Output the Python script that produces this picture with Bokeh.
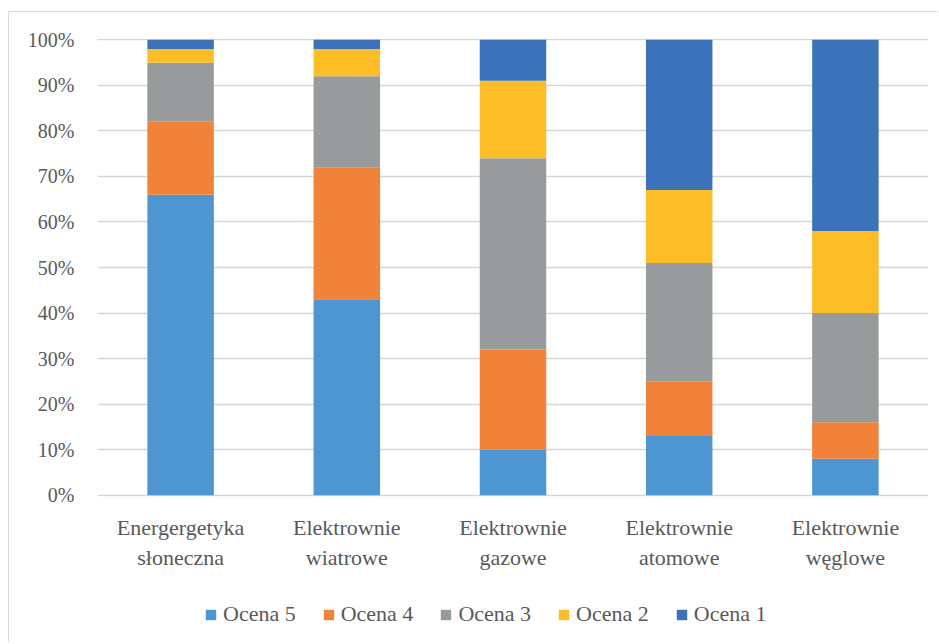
from bokeh.plotting import figure
from bokeh.layouts import column
from bokeh.models import Range1d, FixedTicker, PrintfTickFormatter, Legend, LegendItem
from bokeh.embed import file_html
from bokeh.resources import INLINE

# Survey: share of each rating (Ocena 1-5) per energy source, in percent
categories = ["Energergetyka\nsłoneczna", "Elektrownie\nwiatrowe", "Elektrownie\ngazowe",
              "Elektrownie\natomowe", "Elektrownie\nwęglowe"]
ocena5 = [66, 43, 10, 13, 8]
ocena4 = [16, 29, 22, 12, 8]
ocena3 = [13, 20, 42, 26, 24]
ocena2 = [3, 6, 17, 16, 18]
ocena1 = [2, 2, 9, 33, 42]
series_names = ["Ocena 5", "Ocena 4", "Ocena 3", "Ocena 2", "Ocena 1"]
y_ticks = [0, 10, 20, 30, 40, 50, 60, 70, 80, 90, 100]

colors = ["#4E96D1", "#F08239", "#989B9B", "#FDBD26", "#3C72B9"]
FONT = "Liberation Serif"
TXT = "#595959"

data = {"cat": categories, "Ocena 5": ocena5, "Ocena 4": ocena4, "Ocena 3": ocena3,
        "Ocena 2": ocena2, "Ocena 1": ocena1}

# --- main chart: stacked 100% columns ---
p = figure(x_range=categories, y_range=Range1d(-0.3, 100.3), width=929, height=560,
           output_backend="svg", toolbar_location=None,
           min_border_left=88, min_border_top=26, min_border_right=10, min_border_bottom=74)
p.outline_line_color = None
p.background_fill_color = "white"
p.border_fill_color = "white"

p.vbar_stack(series_names, x="cat", width=0.4, source=data, color=colors, line_color=None)

# y axis: percent labels, no line or ticks
p.yaxis.ticker = FixedTicker(ticks=y_ticks)
p.yaxis.formatter = PrintfTickFormatter(format="%d%%")
p.yaxis.axis_line_color = None
p.yaxis.major_tick_line_color = None
p.yaxis.minor_tick_line_color = None
p.yaxis.major_label_text_font = FONT
p.yaxis.major_label_text_font_size = "20px"
p.yaxis.major_label_text_color = TXT
p.yaxis.major_label_standoff = 17

p.ygrid.ticker = FixedTicker(ticks=y_ticks)
p.ygrid.grid_line_color = "#D6D6D6"
p.ygrid.grid_line_width = 1.5
p.xgrid.grid_line_color = None

# x axis: two-line category labels
p.xaxis.axis_line_color = None
p.xaxis.major_tick_line_color = None
p.xaxis.minor_tick_line_color = None
p.xaxis.major_label_text_font = FONT
p.xaxis.major_label_text_font_size = "22px"
p.xaxis.major_label_text_color = TXT
p.xaxis.major_label_standoff = 12

# --- legend strip underneath ---
# the series are stacked again here only to feed the legend swatches;
# the y range sits far above 100 so no bar shows in this strip
p2 = figure(width=929, height=70, x_range=categories, y_range=Range1d(1000, 1001),
            x_axis_type=None, y_axis_type=None, output_backend="svg", toolbar_location=None,
            min_border_left=88, min_border_right=10, min_border_top=0, min_border_bottom=0)
p2.outline_line_color = None
p2.grid.grid_line_color = None
p2.border_fill_color = "white"
p2.background_fill_color = "white"

swatches = p2.vbar_stack(series_names, x="cat", width=0.4, source=data,
                         color=colors, line_color=None)

legend = Legend(items=[LegendItem(label=n, renderers=[r]) for n, r in zip(series_names, swatches)],
                orientation="horizontal", location=(107, 15),
                label_text_font=FONT, label_text_font_size="22px", label_text_color=TXT,
                glyph_width=13, glyph_height=13, label_standoff=6, spacing=26,
                border_line_color=None, background_fill_alpha=0, padding=0, margin=0)
p2.add_layout(legend)

page = column(p, p2, spacing=0,
              styles={"margin-left": "8px", "margin-top": "11px",
                      "border-left": "1px solid #D9D9D9", "border-top": "1px solid #D9D9D9"})

open("out.html", "w").write(file_html(page, INLINE))
